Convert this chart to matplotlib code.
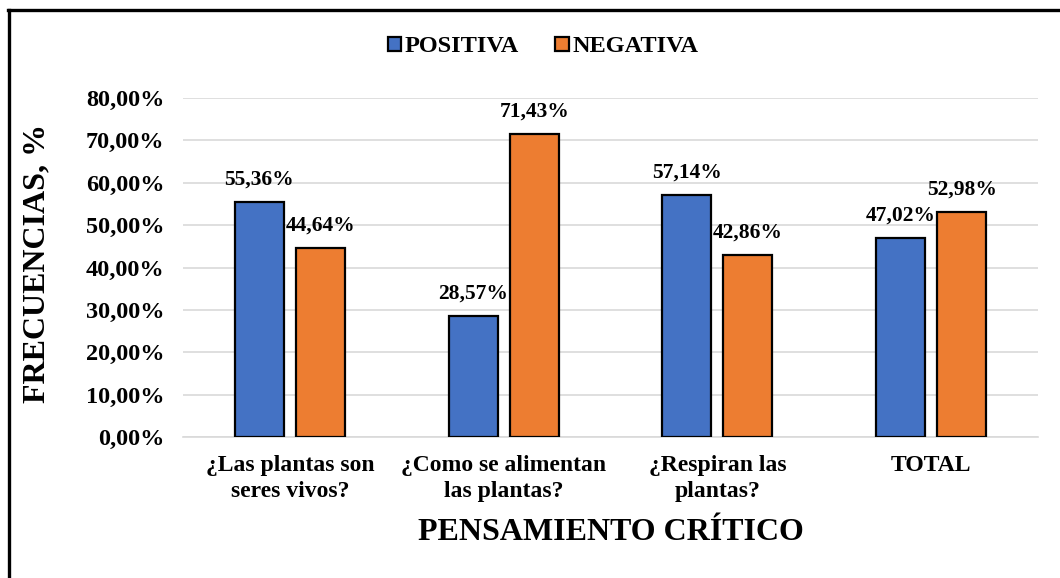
import matplotlib
matplotlib.use("Agg")
import matplotlib.pyplot as plt
import numpy as np
from matplotlib.lines import Line2D

categories = ["¿Las plantas son\nseres vivos?", "¿Como se alimentan\nlas plantas?",
              "¿Respiran las\nplantas?", "TOTAL"]
positiva = [55.36, 28.57, 57.14, 47.02]
negativa = [44.64, 71.43, 42.86, 52.98]
series_names = ["POSITIVA", "NEGATIVA"]
yticks = [0, 10, 20, 30, 40, 50, 60, 70, 80]

plt.rcParams['font.family'] = ['Liberation Serif', 'DejaVu Serif']
plt.rcParams['font.weight'] = 'bold'

W, H = 1060, 578
fig = plt.figure(figsize=(W/100, H/100), dpi=100)
ax = fig.add_axes([183/W, 1-437/H, (1038-183)/W, (437-98)/H])

x = np.arange(len(categories))
bw = 0.229
off = 0.143
b1 = ax.bar(x - off, positiva, bw, color="#4472C4", edgecolor="black", linewidth=1.6, zorder=3, label=series_names[0])
b2 = ax.bar(x + off, negativa, bw, color="#ED7D31", edgecolor="black", linewidth=1.6, zorder=3, label=series_names[1])

def fmt(v):
    return f"{v:.2f}".replace(".", ",") + "%"

for bars, vals in ((b1, positiva), (b2, negativa)):
    for r, v in zip(bars, vals):
        ax.annotate(fmt(v), (r.get_x() + r.get_width()/2, v), xytext=(0, 9),
                    textcoords="offset points", ha="center", va="bottom",
                    fontsize=15.5, fontweight="bold")

ax.set_xlim(-0.5, len(categories) - 0.5)
ax.set_ylim(0, 80)
ax.set_yticks(yticks)
ax.set_yticklabels([fmt(v) for v in yticks], fontsize=17.5, fontweight="bold")
ax.set_xticks(x)
ax.set_xticklabels(categories, fontsize=17, fontweight="bold", linespacing=1.3)
ax.tick_params(axis="both", length=0)
ax.tick_params(axis="y", pad=13.5)
ax.tick_params(axis="x", pad=13)
ax.grid(axis="y", color="#D9D9D9", linewidth=1.2, zorder=0)
for s in ["top", "right", "left"]:
    ax.spines[s].set_visible(False)
ax.spines["bottom"].set_color("#D9D9D9")
ax.spines["bottom"].set_linewidth(1.2)

fig.text(37/W, 1-263/H, "FRECUENCIAS, %", rotation=90, ha="center", va="center",
         fontsize=23, fontweight="bold")
fig.text(611/W, 1-533/H, "PENSAMIENTO CRÍTICO", ha="center", va="center",
         fontsize=23, fontweight="bold")

fig.legend(handles=[b1, b2], labels=series_names, loc="center", bbox_to_anchor=(543/W, 1-47/H),
           ncol=2, frameon=False, prop={'weight': 'bold', 'size': 17.5},
           handlelength=0.55, handleheight=0.55, handletextpad=0.15, columnspacing=1.5)

fig.add_artist(Line2D([9/W, 9/W], [0, 1-10/H], color="black", linewidth=2.4, transform=fig.transFigure))
fig.add_artist(Line2D([8/W, 1], [1-10/H, 1-10/H], color="black", linewidth=2.4, transform=fig.transFigure))

fig.savefig("out.png", dpi=100)
